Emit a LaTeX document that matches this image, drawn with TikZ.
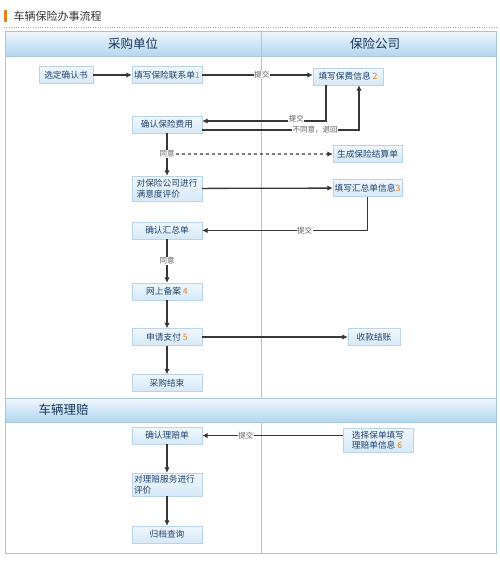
\documentclass[tikz,border=0pt]{standalone}
\usepackage{fontspec}
\newfontfamily\cjk{Noto Sans CJK SC}
\usetikzlibrary{arrows.meta}
\definecolor{ink}{RGB}{32,68,112}
\definecolor{boxline}{RGB}{185,212,232}
\definecolor{boxtop}{RGB}{240,247,253}
\definecolor{boxbot}{RGB}{214,233,247}
\definecolor{headtop}{RGB}{240,247,253}
\definecolor{headbot}{RGB}{178,214,240}
\definecolor{frameline}{RGB}{168,198,218}
\definecolor{numc}{RGB}{226,132,30}
\definecolor{wire}{RGB}{55,55,55}
\newcommand{\num}[1]{\textcolor{numc}{#1}}

\begin{document}
\begin{tikzpicture}[x=1pt,y=-1pt,
		stage/.style={draw=boxline, top color=boxtop, bottom color=boxbot, text=ink,
			minimum height=17pt, inner sep=1pt, font=\cjk\fontsize{8.7}{10.5}\selectfont},
		flow/.style={draw=wire, line width=1.3pt, -{Latex[length=5.5pt,width=5.5pt]}},
		tag/.style={fill=white, inner sep=0.6pt, text=wire!80, font=\cjk\fontsize{7.5}{8}\selectfont},
		head/.style={text=ink!80!black, font=\cjk\fontsize{12.5}{14}\selectfont}]
		\useasboundingbox (0,0) rectangle (500,562);
		\fill[white] (0,0) rectangle (500,562);
		% title
		\fill[numc] (4,10) rectangle (6.5,22);
		\node[anchor=west, text=black!80, font=\cjk\fontsize{11}{13}\selectfont] (title) at (10,16) {车辆保险办事流程};
		\draw[black!35, dotted] (4,27) -- (497,27);
		% frame and headers
		\shade[top color=headtop, bottom color=headbot] (5,31) rectangle (496,56);
		\shade[top color=headtop, bottom color=headbot] (5,398) rectangle (496,422);
		\draw[frameline] (5,56) -- (496,56);
		\draw[frameline] (5,398) -- (496,398);
		\draw[frameline] (5,422) -- (496,422);
		\draw[frameline] (261,31) -- (261,398);
		\draw[frameline] (261,422) -- (261,553);
		\draw[frameline, line width=0.8pt] (5,31) rectangle (496,553);
		\node[head] (buyer) at (133,44) {采购单位};
		\node[head] (insurer) at (375,44) {保险公司};
		\node[head, anchor=west] (claim) at (35,410) {车辆理赔};
		% purchase steps
		\node[stage, minimum width=54pt] (xuan) at (66,75) {选定确认书};
		\node[stage, minimum width=70pt] (lian) at (167,75) {填写保险联系单\num{1}};
		\node[stage, minimum width=70pt] (baofei) at (348,76.5) {填写保费信息 \num{2}};
		\node[stage, minimum width=70pt] (feiyong) at (167,124.5) {确认保险费用};
		\node[stage, minimum width=69pt] (jiesuan) at (367.5,154) {生成保险结算单};
		\node[stage, minimum width=70pt, minimum height=25pt, align=left] (pingjia) at (167,188.5) {对保险公司进行\\满意度评价};
		\node[stage, minimum width=69pt] (huizong) at (367.5,188) {填写汇总单信息\num{3}};
		\node[stage, minimum width=70pt] (queren) at (167,230.5) {确认汇总单};
		\node[stage, minimum width=70pt] (beian) at (167,291.5) {网上备案 \num{4}};
		\node[stage, minimum width=70pt] (zhifu) at (167,337) {申请支付 \num{5}};
		\node[stage, minimum width=52pt] (shoukuan) at (374,337) {收款结账};
		\node[stage, minimum width=70pt] (jieshu) at (167,383) {采购结束};
		% claim steps
		\node[stage, minimum width=70pt] (lipei) at (167,435.5) {确认理赔单};
		\node[stage, minimum width=70pt, minimum height=24pt, align=left] (xuanze) at (378,440) {选择保单填写\\理赔单信息 \num{6}};
		\node[stage, minimum width=70pt, minimum height=23pt, text width=66pt, align=left] (pj2) at (167,484.5) {对理赔服务进行\\评价};
		\node[stage, minimum width=70pt] (guidang) at (167,534.5) {归档查询};
		% connectors
		\draw[flow] (xuan) -- (lian);
		\draw[flow] (lian.east) -- (baofei.west |- lian.east) node[tag, pos=0.54] {提交};
		\draw[flow] ([xshift=-22pt]baofei.south) |- ([yshift=3.5pt]feiyong.east) node[tag, pos=0.62, yshift=2pt] {提交};
		\draw[flow] ([yshift=-5.5pt]feiyong.east) -| ([xshift=11pt]baofei.south) node[tag, pos=0.36] {不同意，退回};
		\draw[flow] (feiyong) -- (pingjia) node[tag, pos=0.49] (agree1) {同意};
		\draw[flow, dashed] (agree1) -- (jiesuan);
		\draw[flow] (pingjia) -- (huizong);
		\draw[flow] (huizong.south) |- (queren) node[tag, pos=0.69] {提交};
		\draw[flow] (queren) -- (beian) node[tag, pos=0.5] {同意};
		\draw[flow] (beian) -- (zhifu);
		\draw[flow] (zhifu) -- (shoukuan);
		\draw[flow] (zhifu) -- (jieshu);
		\draw[flow] (xuanze.west |- lipei) -- (lipei) node[tag, pos=0.69] {提交};
		\draw[flow] (lipei) -- (pj2);
		\draw[flow] (pj2) -- (guidang);
\end{tikzpicture}
\end{document}
